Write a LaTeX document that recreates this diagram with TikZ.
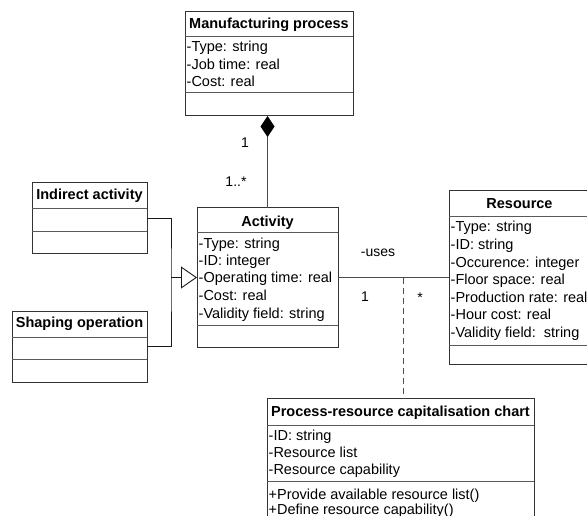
\documentclass[tikz,border=0pt]{standalone}
\usepackage{fontspec}
\setmainfont{Liberation Sans}
\usetikzlibrary{arrows.meta}

\tikzset{
  classbox/.style={draw=black!80,line width=1pt,inner sep=0pt,outer sep=0pt},
  sep/.style={draw=black!65,line width=1pt},
  classtitle/.style={font=\fontsize{14.5}{17.5}\selectfont\bfseries,anchor=base,inner sep=0pt},
  attr/.style={font=\fontsize{14.5}{17.5}\selectfont,anchor=base west,inner sep=0pt},
  lbl/.style={font=\fontsize{14}{16}\selectfont,inner sep=0pt},
  gen/.style={draw=black!90,line width=0.9pt},
  assoc/.style={draw=black!70,line width=1pt}
}

\begin{document}
\begin{tikzpicture}[x=1pt,y=-1pt]
    \clip (0,0) rectangle (587,516);

    % class boxes
    \node[classbox,minimum width=168pt,minimum height=104pt] (mp) at (269,64) {};
    \node[classbox,minimum width=115pt,minimum height=71pt] (ia) at (89.5,218.5) {};
    \node[classbox,minimum width=135pt,minimum height=71pt] (so) at (79.5,346.5) {};
    \node[classbox,minimum width=141pt,minimum height=139pt] (act) at (267.5,277.5) {};
    \node[classbox,minimum width=141pt,minimum height=173pt] (res) at (519.5,277.5) {};
    \node[classbox,minimum width=267pt,minimum height=132pt] (chart) at (400.5,464) {};

    % compartments
    \foreach \b/\y in {mp/37,mp/93,ia/209,ia/232,so/337,so/359,act/233,act/325,
                       res/217,res/345,chart/425,chart/481}
        \draw[sep] (\b.west |- 0,\y) -- (\b.east |- 0,\y);

    % titles
    \node[classtitle] (mp-t) at (269,28.5) {Manufacturing process};
    \node[classtitle] (ia-t) at (89.5,200) {Indirect activity};
    \node[classtitle] (so-t) at (79.5,327.5) {Shaping operation};
    \node[classtitle] (act-t) at (267.5,226.5) {Activity};
    \node[classtitle] (res-t) at (519.5,208) {Resource};
    \node[classtitle] (chart-t) at (400.5,416) {Process-resource capitalisation chart};

    % attributes
    \foreach \t [count=\i] in {-Type: string,-Job time: real,-Cost: real}
        \node[attr] (mp-a\i) at (186.5,34.5+17.5*\i) {\t};
    \foreach \t [count=\i] in {-Type: string,-ID: integer,-Operating time: real,
                               -Cost: real,-Validity field: string}
        \node[attr] (act-a\i) at (198.5,230.5+17.5*\i) {\t};
    \foreach \t [count=\i] in {-Type: string,-ID: string,-Occurence: integer,
                               -Floor space: real,-Production rate: real,
                               -Hour cost: real,-Validity field:\ \ string}
        \node[attr] (res-a\i) at (450.5,214.5+17.5*\i) {\t};
    \foreach \t [count=\i] in {-ID: string,-Resource list,-Resource capability}
        \node[attr] (chart-a\i) at (268.5,423+17*\i) {\t};
    \foreach \t [count=\i] in {+Provide available resource list(),
                               +Define resource capability()}
        \node[attr] (chart-m\i) at (268.5,484+15*\i) {\t};

    % composition
    \draw[assoc,{Diamond[length=21pt,width=14pt,color=black]}-] (act.north |- mp.south) -- (act.north);
    \node[lbl] (one-a) at (245,143) {1};
    \node[lbl] (many-a) at (236,182) {1..*};

    % generalisation
    \coordinate (gj) at (171,277.5);
    \draw[gen] (ia.east) -| (gj) |- (so.east);
    \draw[gen,-{Triangle[open,length=16pt,width=22pt]}] (gj) -- (act.west);

    % association uses
    \draw[assoc] (act.east) -- (res.west);
    \node[lbl] (uses) at (378,253) {-uses};
    \node[lbl] (one-b) at (365,297) {1};
    \node[lbl] (many-b) at (420,298) {*};
    \coordinate (ac) at (403,277.5);
    \draw[assoc,dash pattern=on 6pt off 4pt] (ac) -- (ac |- chart.north);
\end{tikzpicture}
\end{document}
